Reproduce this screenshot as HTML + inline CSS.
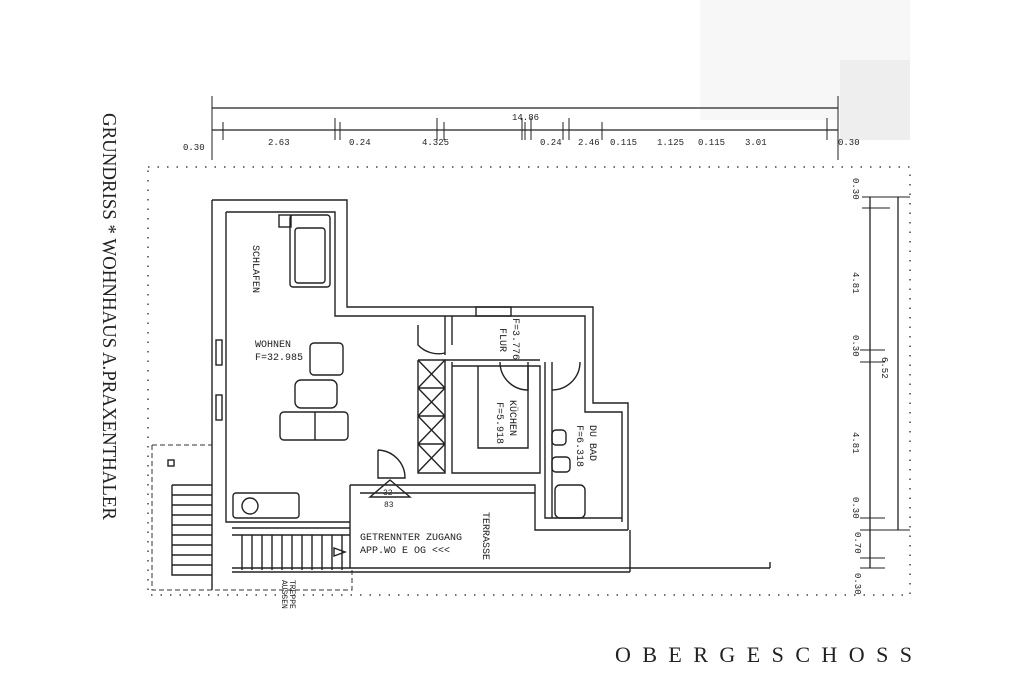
<!DOCTYPE html>
<html><head><meta charset="utf-8"><style>
html,body{margin:0;padding:0;background:#fff;}
svg{display:block;}
text{fill:#222;}
</style></head><body>
<svg width="1024" height="683" viewBox="0 0 1024 683" xmlns="http://www.w3.org/2000/svg">
<rect width="1024" height="683" fill="#fff"/>
<rect x="700" y="0" width="210" height="120" fill="#f7f7f7"/>
<rect x="840" y="60" width="70" height="80" fill="#eeeeee"/>
<g stroke="#222" fill="none" stroke-width="1.3">
<line x1="212" y1="108" x2="838" y2="108"/>
<line x1="212" y1="130" x2="838" y2="130"/>
<g stroke-width="1">
<path d="M212 96V160M223 122V140M335 118V140M340 122V140M437 118V140M444 122V140M522 118V140M525 122V140M531 118V140M563 122V140M569 118V140M602 122V140M838 96V160M827 118V140"/>
<path d="M862 197H910M862 208H890M860 350H885M860 362H885M860 518H885M860 530H910M860 558H885M860 568H885"/>
</g>
<line x1="870" y1="197" x2="870" y2="568"/>
<line x1="898" y1="197" x2="898" y2="530"/>
</g>
<g style="font-family:'Liberation Mono',monospace;font-size:9px">
<text x="183" y="150">0.30</text><text x="268" y="145">2.63</text><text x="349" y="145">0.24</text>
<text x="422" y="145">4.325</text><text x="512" y="120">14.86</text><text x="540" y="145">0.24</text>
<text x="578" y="145">2.46</text><text x="610" y="145">0.115</text><text x="657" y="145">1.125</text>
<text x="698" y="145">0.115</text><text x="745" y="145">3.01</text><text x="838" y="145">0.30</text>
<text transform="translate(853,178) rotate(90)">0.30</text>
<text transform="translate(853,272) rotate(90)">4.81</text>
<text transform="translate(853,335) rotate(90)">0.30</text>
<text transform="translate(882,357) rotate(90)">6.52</text>
<text transform="translate(853,432) rotate(90)">4.81</text>
<text transform="translate(853,497) rotate(90)">0.30</text>
<text transform="translate(855,532) rotate(90)">0.70</text>
<text transform="translate(855,573) rotate(90)">0.30</text>
</g>
<path d="M148 167H910V595H148V167" fill="none" stroke="#444" stroke-width="1.5" stroke-dasharray="1.5 8"/>
<path d="M152 445H212M152 445V590H352V568" fill="none" stroke="#333" stroke-width="1" stroke-dasharray="5 3"/>
<g stroke="#222" fill="none" stroke-width="1.4">
<path d="M212 200H347V307H593V403H628V530"/>
<path d="M226 212H335V316H585V412H622V522"/>
<path d="M212 200V590M226 212V522H350"/>
<path d="M232 528H350M350 485V568M350 485H535V530H628M360 493H535"/>
<path d="M232 568H770M232 572H630M630 530V572M770 562V568"/>
<path d="M445 316V355M452 316V345M445 360H540M452 366H540V473H452V362"/>
<path d="M478 366V448H528V366M545 362V518H622M552 362V518"/>
<path d="M418 360H445V473H418V360"/>
<path d="M418 388H445M418 416H445M418 444H445M418 360L445 388M445 360L418 388M418 388L445 416M445 388L418 416M418 416L445 444M445 416L418 444M418 444L445 472M445 444L418 472"/>
<path d="M418 325V345A28 28 0 0 0 445 353"/>
<path d="M378 450V478H405A28 28 0 0 0 378 450"/>
<path d="M500 362A28 28 0 0 0 528 390V362"/>
<path d="M552 390A28 28 0 0 0 580 362"/>
<rect x="290" y="215" width="40" height="72" rx="3"/>
<rect x="295" y="228" width="30" height="55" rx="3"/>
<rect x="279" y="215" width="12" height="12"/>
<rect x="310" y="343" width="33" height="32" rx="4"/>
<rect x="295" y="380" width="42" height="28" rx="6"/>
<rect x="280" y="412" width="68" height="28" rx="4"/>
<line x1="315" y1="412" x2="315" y2="440"/>
<rect x="233" y="493" width="66" height="25" rx="3"/>
<circle cx="250" cy="506" r="8"/>
<rect x="555" y="485" width="30" height="33" rx="5"/>
<rect x="552" y="430" width="14" height="15" rx="4"/>
<rect x="552" y="457" width="18" height="15" rx="4"/>
<rect x="168" y="460" width="6" height="6"/>
<path d="M172 485V575H212M172 485H212M172 495H212M172 505H212M172 515H212M172 525H212M172 535H212M172 545H212M172 555H212M172 565H212"/>
<path d="M242 535V570M252 535V570M262 535V570M272 535V570M282 535V570M292 535V570M302 535V570M312 535V570M322 535V570M332 535V570M342 535V570M232 535H350"/>
<path d="M334 548V556L345 552Z"/>
<path d="M370 497L390 480L410 497Z"/>
<rect x="476" y="307" width="35" height="9"/>
<rect x="216" y="340" width="6" height="25"/><rect x="216" y="395" width="6" height="25"/>
</g>
<g style="font-family:'Liberation Mono',monospace;font-size:10px">
<text transform="translate(253,245) rotate(90)">SCHLAFEN</text>
<text x="255" y="347">WOHNEN</text><text x="255" y="360">F=32.985</text>
<text transform="translate(513,318) rotate(90)">F=3.776</text>
<text transform="translate(500,328) rotate(90)">FLUR</text>
<text transform="translate(510,400) rotate(90)">KÜCHEN</text>
<text transform="translate(497,402) rotate(90)">F=5.918</text>
<text transform="translate(590,425) rotate(90)">DU BAD</text>
<text transform="translate(577,425) rotate(90)">F=6.318</text>
<text transform="translate(483,512) rotate(90)">TERRASSE</text>
<text x="360" y="540">GETRENNTER ZUGANG</text>
<text x="360" y="553">APP.WO E OG &lt;&lt;&lt;</text>
<text x="383" y="495" style="font-size:8px">32</text><text x="384" y="507" style="font-size:8px">83</text>
<text transform="translate(290,580) rotate(90)" style="font-size:8px">TREPPE</text>
<text transform="translate(282,580) rotate(90)" style="font-size:8px">AUSSEN</text>
</g>
<text transform="translate(103,113) rotate(90)" style="font-family:'Liberation Serif',serif;font-size:20px" textLength="407" lengthAdjust="spacingAndGlyphs">GRUNDRISS * WOHNHAUS  A.PRAXENTHALER</text>
<text x="615" y="662" style="font-family:'Liberation Serif',serif;font-size:22px" textLength="297" lengthAdjust="spacing">OBERGESCHOSS</text>
</svg>
</body></html>
